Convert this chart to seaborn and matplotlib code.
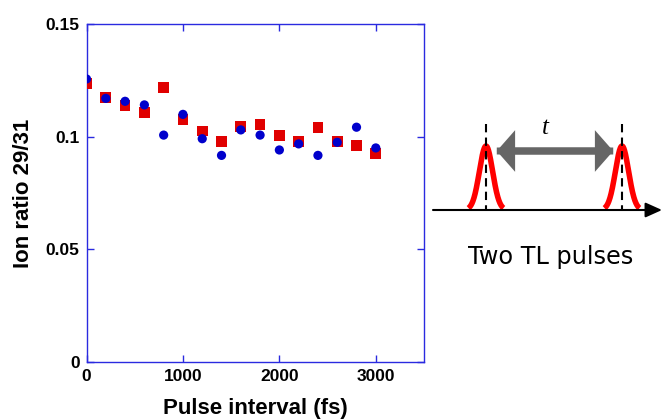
import numpy as np
import pandas as pd
import matplotlib
matplotlib.use("Agg")
import matplotlib.pyplot as plt
import seaborn as sns
from matplotlib.patches import FancyArrowPatch

# ---- data ----
intervals = [0, 200, 400, 600, 800, 1000, 1200, 1400, 1600, 1800,
             2000, 2200, 2400, 2600, 2800, 3000]
ratio_squares = [0.1235, 0.1173, 0.1138, 0.1107, 0.1218, 0.1075, 0.1025, 0.0978,
                 0.1044, 0.1055, 0.1005, 0.0978, 0.1040, 0.0978, 0.0960, 0.0925]
ratio_circles = [0.1256, 0.1170, 0.1157, 0.1141, 0.1007, 0.1099, 0.0991, 0.0917,
                 0.1030, 0.1007, 0.0941, 0.0968, 0.0917, 0.0975, 0.1042, 0.0950]
x_ticks = [0, 1000, 2000, 3000]
y_ticks = [0, 0.05, 0.1, 0.15]
y_tick_labels = ["0", "0.05", "0.1", "0.15"]

df = pd.DataFrame({
    "interval": intervals + intervals,
    "ratio": ratio_squares + ratio_circles,
    "series": ["sq"] * len(intervals) + ["ci"] * len(intervals),
})

sns.set_style("white")
plt.rcParams["font.family"] = ["Liberation Sans", "DejaVu Sans"]
plt.rcParams["text.color"] = "black"
plt.rcParams["axes.labelcolor"] = "black"

fig = plt.figure(figsize=(6.62, 4.19), dpi=100)
ax = fig.add_axes([0.1307, 0.136, 0.5098, 0.8067])

spine_col = "#2a2ae0"
sns.scatterplot(data=df, x="interval", y="ratio", hue="series", style="series",
                palette={"sq": "#e00000", "ci": "#0000cc"},
                markers={"sq": "s", "ci": "o"},
                s=[60] * len(intervals) + [44] * len(intervals),
                linewidth=0, legend=False, ax=ax, zorder=3)

ax.set_xlim(0, 3500)
ax.set_ylim(0, 0.15)
ax.set_xticks(x_ticks)
ax.set_xticklabels([str(v) for v in x_ticks])
ax.set_yticks(y_ticks)
ax.set_yticklabels(y_tick_labels)
for sp in ax.spines.values():
    sp.set_color(spine_col)
    sp.set_linewidth(1.0)
    sp.set_visible(True)
ax.tick_params(direction="in", length=5, width=1, color=spine_col,
               labelcolor="black",
               top=True, right=True, bottom=True, left=True,
               labelsize=12.5, pad=5)
for lab in ax.get_xticklabels() + ax.get_yticklabels():
    lab.set_fontweight("bold")
ax.set_xlabel("Pulse interval (fs)", fontsize=16, fontweight="bold", labelpad=10)
ax.set_ylabel("Ion ratio 29/31", fontsize=16, fontweight="bold", labelpad=8)
ax.grid(False)

# ---- diagram on the right (pixel coordinates) ----
ov = fig.add_axes([0, 0, 1, 1], facecolor="none")
ov.set_xlim(0, 662)
ov.set_ylim(419, 0)
ov.axis("off")

base_y = 210
ov.annotate("", xy=(662, base_y), xytext=(433, base_y), annotation_clip=False,
            arrowprops=dict(arrowstyle="-|>,head_length=1.0,head_width=0.45",
                            color="black", lw=1.5, shrinkA=0, shrinkB=0))
for c in (486, 622):
    xs = np.linspace(c - 17.5, c + 17.5, 160)
    ys = base_y - 64 * np.exp(-0.5 * ((xs - c) / 6.6) ** 2)
    ov.plot(xs, ys, color="#ff0000", lw=4.0, solid_capstyle="butt", zorder=2)
    ov.plot([c, c], [124, base_y], color="black", lw=1.5,
            linestyle=(0, (4, 2.5)), zorder=3)

style = "simple,head_length=1.1,head_width=2.5,tail_width=0.42"
ov.add_patch(FancyArrowPatch((494, 151), (616, 151), arrowstyle=style,
                             color="#666666", mutation_scale=12, lw=0))
ov.add_patch(FancyArrowPatch((616, 151), (494, 151), arrowstyle=style,
                             color="#666666", mutation_scale=12, lw=0))

ov.text(545, 128, "t", fontsize=18, fontstyle="italic",
        family=["Liberation Serif", "DejaVu Serif"], ha="center", va="center")
ov.text(551, 257, "Two TL pulses", fontsize=17.3, color="black",
        family=["DejaVu Sans"], ha="center", va="center")

fig.savefig("out.png", dpi=100)
